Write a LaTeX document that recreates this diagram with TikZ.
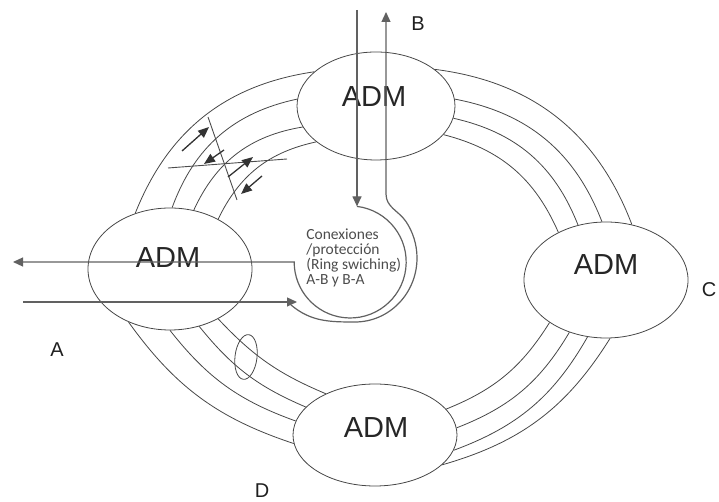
\documentclass[tikz,border=0pt]{standalone}
\usepackage{fontspec}
\setmainfont{Liberation Sans}
\newfontfamily\notefont{Carlito}
\usetikzlibrary{arrows.meta,shapes.geometric}
\begin{document}
\begin{tikzpicture}[x=1pt,y=1pt,
  line width=0.8pt,
  ink/.style={draw=black!72},
  adm/.style={ellipse,ink,inner sep=0pt},
  admlabel/.style={font=\fontsize{29}{30}\selectfont,text=black!85},
  ring/.style={ink},
  flow/.style={draw=black!62,line width=1.2pt,-{Triangle[length=10pt,width=9pt]}},
  tick/.style={draw=black!80,line width=1.3pt,-{Triangle[length=11pt,width=9pt]}},
  cut/.style={draw=black!70,line width=0.9pt},
  site/.style={font=\fontsize{20}{22}\selectfont,text=black!88},
  note/.style={font=\notefont\fontsize{15.5}{15}\selectfont,text=black!70,align=left,anchor=north west,inner sep=0pt}
]
\useasboundingbox (0,0) rectangle (719,502);

% add-drop multiplexers
\node[adm,minimum width=158,minimum height=108] (T) at (376,396) {};
\node[adm,minimum width=164,minimum height=122] (L) at (170,233) {};
\node[adm,minimum width=164,minimum height=116] (R) at (606,222) {};
\node[adm,minimum width=164,minimum height=102] (D) at (375,67) {};
\node[admlabel] (tT) at (374,405) {ADM};
\node[admlabel] (tL) at (168,244) {ADM};
\node[admlabel] (tR) at (606,237) {ADM};
\node[admlabel] (tD) at (376,74) {ADM};

% four fibres between each pair of neighbours
\draw[ring] (L.122) to[bend left=30] (T.151);
\draw[ring] (L.88)  to[bend left=29] (T.175);
\draw[ring] (L.68)  to[bend left=28] (T.-164);
\draw[ring] (L.46)  to[bend left=26] (T.-149);

\draw[ring] (T.32)  to[bend left=31] (R.65);
\draw[ring] (T.5)   to[bend left=29] (R.94);
\draw[ring] (T.-9)  to[bend left=28] (R.117);
\draw[ring] (T.-23) to[bend left=26] (R.135);

\draw[ring] (R.-86)  to[bend left=21] (D.-24);
\draw[ring] (R.-108) to[bend left=20] (D.-11);
\draw[ring] (R.-125) to[bend left=19] (D.5);
\draw[ring] (R.-143) to[bend left=18] (D.20);

\draw[ring] (D.186) to[bend left=18] (L.-128);
\draw[ring] (D.170) to[bend left=16] (L.-90);
\draw[ring] (D.158) to[bend left=14] (L.-63);
\draw[ring] (D.140) to[bend left=12] (L.-46);

% break in the span and the looped-back traffic
\coordinate (c1a) at (208,385);
\coordinate (c1b) at (237,302);
\coordinate (c2a) at (168,334);
\coordinate (c2b) at (287,343);
\draw[cut] (c1a) -- (c1b);
\draw[cut] (c2a) -- (c2b);

\coordinate (k1a) at (182,351); \coordinate (k1b) at (209,375);
\coordinate (k2a) at (224,352); \coordinate (k2b) at (204,338);
\coordinate (k3a) at (228,325); \coordinate (k3b) at (253,345);
\coordinate (k4a) at (262,326); \coordinate (k4b) at (241,308);
\draw[tick] (k1a) -- (k1b);
\draw[tick] (k2a) -- (k2b);
\draw[tick] (k3a) -- (k3b);
\draw[tick] (k4a) -- (k4b);

% protection connections between site A and site B
\coordinate (bIn) at (357,492);
\coordinate (bTurn) at (357,295.6);
\coordinate (aOut) at (13,240);
\coordinate (aIn) at (23,200);
\coordinate (aTurn) at (297,200);
\coordinate (loopEnd) at (291,197);
\coordinate (loopLow) at (355,180);
\coordinate (bBack) at (386,308);
\coordinate (bOut) at (386,490);

\draw[flow] (bIn) -- (bTurn);
\draw[flow] (bTurn) arc[start angle=83,end angle=-180,radius=56] -- (aOut);
\draw[flow] (aIn) -- (aTurn);
\draw[flow] (loopEnd) to[out=-40,in=180] (loopLow)
  arc[start angle=-90,end angle=35,x radius=62,y radius=64]
  to[out=125,in=-90] (bBack) -- (bOut);

\node[note] (nt) at (306,274) {Conexiones\\/protección\\(Ring swiching)\\A-B y B-A};

% small marker on the A-D span
\node[ellipse,ink,inner sep=0pt,minimum width=22,minimum height=45,rotate=-7] (mk) at (246,145) {};

% site names
\node[site] (sA) at (57,152) {A};
\node[site] (sB) at (418,478) {B};
\node[site] (sC) at (709,212) {C};
\node[site] (sD) at (262,11) {D};
\end{tikzpicture}
\end{document}
